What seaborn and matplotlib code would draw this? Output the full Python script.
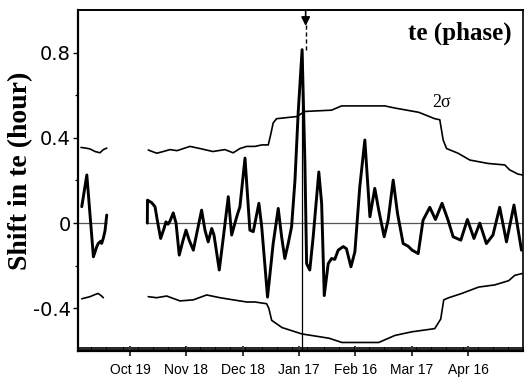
import numpy as np
import pandas as pd
import matplotlib
matplotlib.use("Agg")
import matplotlib.pyplot as plt
import seaborn as sns
from matplotlib.ticker import FixedLocator, FixedFormatter, MultipleLocator

# ---------------- data (days relative to Oct 19) ----------------
seg1_day = [-25.7, -23.0, -19.5, -17.7, -16.9, -15.6, -15.1, -14.2, -13.3, -12.4]
seg1_shift = [0.077, 0.226, -0.158, -0.11, -0.095, -0.085, -0.095, -0.07, -0.035, 0.038]

seg2_day = [9.2, 9.3, 11.5, 13.3, 14.5, 16.3, 18.1, 19.1, 20.2, 21.3, 23.0, 24.5, 26.2, 28.0,
            29.8, 31.5, 33.7, 35.5, 38.1, 39.9, 41.6, 43.5, 44.7, 47.5, 49.6, 52.3, 54.1,
            56.8, 58.5, 61.2, 63.8, 65.6, 68.6, 70.1, 73.2, 76.2, 78.9, 80.7, 82.4, 84.2,
            86.0, 87.8, 89.5, 91.6, 93.1, 94.0, 95.7, 97.5, 100.5, 102.0, 103.4, 105.5,
            107.3, 109.0, 110.8, 113.5, 115.2, 117.6, 119.7, 122.3, 125.0, 127.7, 130.3,
            132.4, 135.3, 137.4, 140.1, 142.4, 145.4, 148.0, 150.2, 153.4, 156.0, 159.6,
            162.6, 166.1, 169.3, 172.0, 176.1, 179.6, 183.1, 186.2, 189.7, 193.2, 196.8,
            200.4, 204.4, 208.4]
seg2_shift = [0.0, 0.108, 0.096, 0.077, 0.014, -0.072, -0.025, 0.006, -0.005, 0.01, 0.048, 0.0,
              -0.15, -0.088, -0.033, -0.08, -0.127, -0.049, 0.061, -0.033, -0.088, -0.025,
              -0.056, -0.22, -0.072, 0.124, -0.056, 0.03, 0.077, 0.305, -0.033, -0.04, 0.093,
              -0.017, -0.347, -0.096, 0.069, -0.064, -0.166, -0.096, -0.017, 0.20, 0.516,
              0.814, 0.28, -0.19, -0.22, -0.064, 0.24, 0.093, -0.34, -0.19, -0.166, -0.17,
              -0.127, -0.11, -0.12, -0.205, -0.135, 0.17, 0.39, 0.03, 0.163, 0.061, -0.064,
              0.014, 0.202, 0.045, -0.096, -0.108, -0.127, -0.143, 0.014, 0.074, 0.017, 0.093,
              0.014, -0.064, -0.08, 0.017, -0.072, 0.0, -0.096, -0.056, 0.074, -0.088, 0.085,
              -0.127]

upper1_day = [-26.1, -23.5, -21.3, -18.6, -16.0, -14.2, -12.4]
upper1_val = [0.355, 0.352, 0.348, 0.336, 0.33, 0.345, 0.352]
upper2_day = [9.7, 14.2, 17.7, 21.3, 25.0, 31.9, 37.2, 44.1, 50.5, 54.9, 58.5, 62.1, 66.5, 70.2,
              73.6, 75.0, 76.2, 78.0, 88.7, 93.1, 107.3, 112.6, 125.0, 135.6, 141.0, 153.7,
              162.2, 164.9, 166.7, 168.5, 174.6, 180.9, 190.6, 199.5, 202.1, 206.5, 209.0]
upper2_val = [0.343, 0.328, 0.336, 0.345, 0.34, 0.36, 0.35, 0.336, 0.345, 0.33, 0.35, 0.36, 0.36,
              0.367, 0.367, 0.42, 0.47, 0.49, 0.50, 0.524, 0.53, 0.55, 0.55, 0.55, 0.54, 0.52,
              0.49, 0.485, 0.39, 0.35, 0.328, 0.296, 0.28, 0.273, 0.25, 0.23, 0.226]

lower1_day = [-25.7, -21.3, -18.6, -17.0, -15.4, -14.2]
lower1_val = [-0.355, -0.345, -0.335, -0.33, -0.34, -0.35]
lower2_day = [9.7, 14.2, 19.5, 26.6, 33.7, 40.8, 47.9, 54.9, 62.1, 66.5, 70.2, 72.7, 73.9, 75.4,
              80.9, 91.5, 105.9, 112.8, 132.4, 141.0, 150.0, 162.2, 165.4, 167.0, 169.7, 176.6,
              185.6, 194.1, 201.6, 204.8, 209.0]
lower2_val = [-0.345, -0.35, -0.342, -0.365, -0.36, -0.337, -0.35, -0.36, -0.37, -0.37, -0.375,
              -0.378, -0.40, -0.456, -0.49, -0.52, -0.54, -0.56, -0.56, -0.527, -0.51, -0.495,
              -0.45, -0.36, -0.35, -0.33, -0.30, -0.29, -0.27, -0.245, -0.236]

month_ticks = [0, 30, 60, 90, 120, 150, 180]
month_labels = ["Oct 19", "Nov 18", "Dec 18", "Jan 17", "Feb 16", "Mar 17", "Apr 16"]
y_ticks = [-0.4, 0.0, 0.4, 0.8]
y_tick_labels = ["-0.4", "0", "0.4", "0.8"]
y_minor = [-0.2, 0.2, 0.6]
event_day = 91.8
arrow_day = 93.5
title_text = "te (phase)"
y_label = "Shift in te (hour)"
sigma_label = "2\u03c3"
sigma_pos = (166.0, 0.565)

# ---------------- figure ----------------
sns.set_style("ticks")
plt.rcParams.update({"text.color": "black", "axes.labelcolor": "black",
                     "xtick.color": "black", "ytick.color": "black"})
fig = plt.figure(figsize=(5.25, 3.79), dpi=100)
ax = fig.add_axes([78 / 525, 1 - 351 / 379, 445 / 525, 341 / 379])

# zero reference line (only where data exist)
ax.hlines(0, -27.7, max(seg1_day), color="#555555", lw=0.9, zorder=1)
ax.hlines(0, min(seg2_day), 209.2, color="#555555", lw=0.9, zorder=1)

# 2-sigma bands
for d, v in [(upper1_day, upper1_val), (upper2_day, upper2_val),
             (lower1_day, lower1_val), (lower2_day, lower2_val)]:
    sns.lineplot(x=d, y=v, ax=ax, color="black", lw=1.2, estimator=None, sort=False,
                 legend=False, zorder=2)

# main series
for d, v in [(seg1_day, seg1_shift), (seg2_day, seg2_shift)]:
    sns.lineplot(x=d, y=v, ax=ax, color="black", lw=2.1, estimator=None, sort=False,
                 legend=False, zorder=3)

ax.set_xlim(-27.7, 209.2)
ax.set_ylim(-0.6, 1.0)

peak = max(seg2_shift)
ax.vlines(event_day, -0.6, peak, color="black", lw=0.9, zorder=2)
ax.plot([arrow_day, arrow_day], [0.93, peak], color="black", lw=1.0, ls=(0, (3, 2)))
ax.annotate("", xy=(arrow_day, 0.925), xytext=(arrow_day, 1.0),
            arrowprops=dict(arrowstyle="-|>", color="black", lw=1.2, mutation_scale=13,
                            shrinkA=0, shrinkB=0))

# axes styling
for side, lw in [("left", 1.6), ("bottom", 1.6), ("top", 1.4), ("right", 1.2)]:
    ax.spines[side].set_visible(True)
    ax.spines[side].set_linewidth(lw)
    ax.spines[side].set_color("black")

ax.xaxis.set_major_locator(FixedLocator(month_ticks))
ax.xaxis.set_major_formatter(FixedFormatter(month_labels))
ax.xaxis.set_minor_locator(MultipleLocator(1))
ax.tick_params(axis="x", which="major", direction="inout", length=7, width=1.1, pad=5,
               labelsize=10, bottom=True, top=False, colors="black")
ax.tick_params(axis="x", which="minor", direction="in", length=3.2, width=1.2,
               bottom=True, top=False, colors="black")
for lab in ax.get_xticklabels():
    lab.set_family("Liberation Sans")

ax.yaxis.set_major_locator(FixedLocator(y_ticks))
ax.yaxis.set_major_formatter(FixedFormatter(y_tick_labels))
ax.yaxis.set_minor_locator(FixedLocator(y_minor))
ax.tick_params(axis="y", which="major", direction="out", length=3.5, width=1.0, pad=1.5,
               labelsize=14, left=True, right=False, colors="black")
ax.tick_params(axis="y", which="minor", direction="out", length=2.5, width=0.9,
               left=True, right=False, colors="black")

ax.set_xlabel("")
ax.set_ylabel(y_label, family="Liberation Serif", fontweight="bold", fontsize=20,
              va="center", color="black")
ax.yaxis.set_label_coords(-0.128, 0.528)

ax.text(0.858, 0.933, title_text, transform=ax.transAxes, ha="center", va="center",
        family="Liberation Serif", fontweight="bold", fontsize=18, color="black")
ax.text(sigma_pos[0], sigma_pos[1], sigma_label, ha="center", va="center",
        family="Liberation Serif", fontsize=13, color="black")

fig.savefig("out.png", dpi=100)
